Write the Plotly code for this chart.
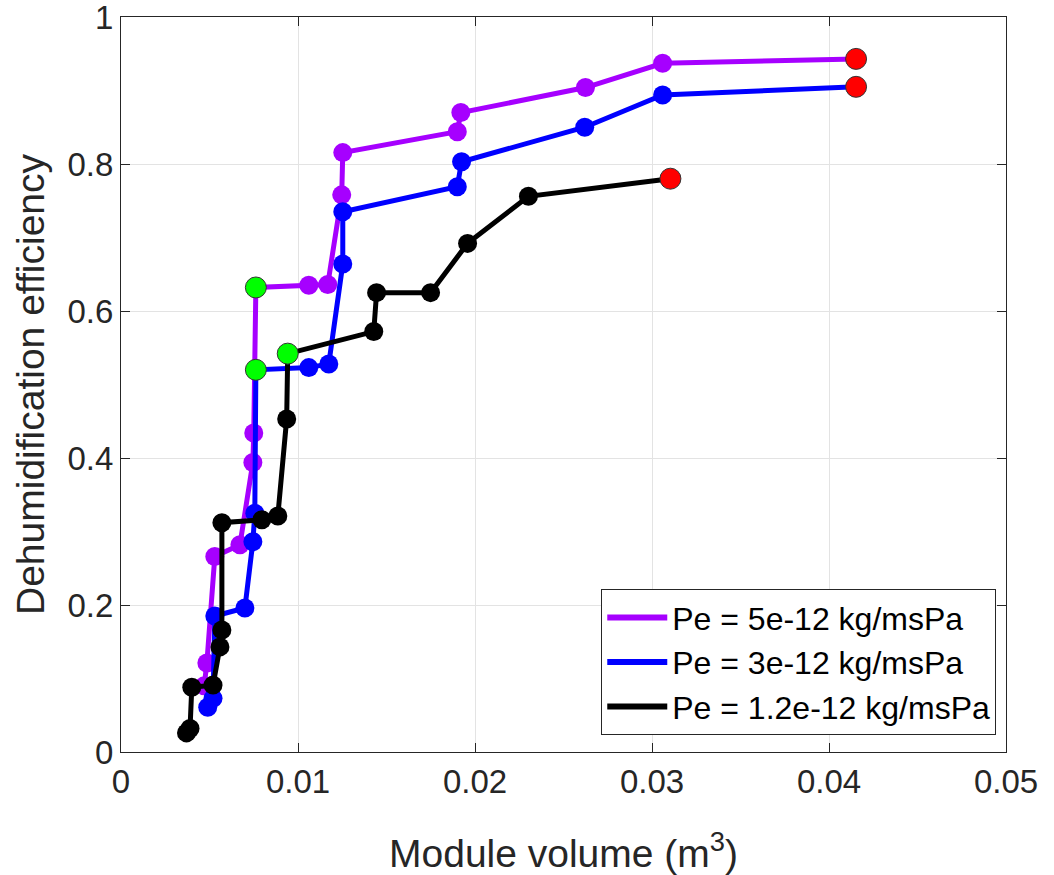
import plotly.graph_objects as go

# ---- data ----
series_names = ["Pe = 5e-12 kg/msPa", "Pe = 3e-12 kg/msPa", "Pe = 1.2e-12 kg/msPa"]

x_p5 = [0.0047, 0.00485, 0.0053, 0.00672, 0.00745, 0.0075, 0.00762, 0.01061, 0.01168,
        0.01247, 0.01253, 0.0190, 0.0192, 0.02624, 0.0306, 0.04153]
y_p5 = [0.090, 0.121, 0.266, 0.282, 0.394, 0.434, 0.632, 0.635, 0.636,
        0.758, 0.8155, 0.844, 0.870, 0.904, 0.937, 0.943]

x_p3 = [0.0049, 0.0052, 0.0053, 0.0070, 0.00745, 0.00756, 0.00762, 0.01061, 0.01174,
        0.01253, 0.01253, 0.0190, 0.01924, 0.0262, 0.0306, 0.04153]
y_p3 = [0.061, 0.073, 0.185, 0.196, 0.286, 0.325, 0.520, 0.523, 0.528,
        0.664, 0.735, 0.769, 0.803, 0.850, 0.894, 0.905]

x_p12 = [0.0037, 0.0039, 0.0040, 0.0052, 0.00559, 0.0057, 0.0057, 0.00796, 0.00886,
         0.00936, 0.00942, 0.01428, 0.01444, 0.01749, 0.01958, 0.02302, 0.03104]
y_p12 = [0.026, 0.032, 0.088, 0.091, 0.143, 0.166, 0.312, 0.316, 0.321,
         0.453, 0.542, 0.572, 0.625, 0.625, 0.692, 0.756, 0.780]

# highlighted points
green_x = [0.00762, 0.00762, 0.00942]
green_y = [0.632, 0.520, 0.542]
red_x = [0.04153, 0.04153, 0.03104]
red_y = [0.943, 0.905, 0.780]

colors = ["#a600ff", "#0000ff", "#000000"]
xs = [x_p5, x_p3, x_p12]
ys = [y_p5, y_p3, y_p12]

FONT = "Liberation Sans, Arial, Helvetica, sans-serif"

fig = go.Figure()
for xv, yv, c in zip(xs, ys, colors):
    fig.add_trace(go.Scatter(
        x=xv, y=yv, mode="lines+markers",
        line=dict(color=c, width=5),
        marker=dict(color=c, size=19, line=dict(width=0)),
        showlegend=False, hoverinfo="skip"))

fig.add_trace(go.Scatter(
    x=green_x, y=green_y, mode="markers",
    marker=dict(color="#00ff00", size=21, line=dict(color="#333333", width=1)),
    showlegend=False))
fig.add_trace(go.Scatter(
    x=red_x, y=red_y, mode="markers",
    marker=dict(color="#ff0000", size=21, line=dict(color="#333333", width=1)),
    showlegend=False))

# legend entries (lines only)
for name, c in zip(series_names, colors):
    fig.add_trace(go.Scatter(
        x=[None], y=[None], mode="lines", name=name,
        line=dict(color=c, width=6)))

axis_common = dict(
    showline=True, linecolor="#262626", linewidth=1, mirror="ticks",
    ticks="inside", ticklen=9, tickcolor="#262626",
    showgrid=True, gridcolor="#e3e3e3", gridwidth=1,
    zeroline=False, ticklabeloverflow="allow", automargin=False,
    tickfont=dict(family=FONT, size=33, color="#262626"),
)

fig.update_layout(
    width=1054, height=875,
    margin=dict(l=121, r=48, t=17, b=123),
    paper_bgcolor="white", plot_bgcolor="white",
    font=dict(family=FONT, color="#262626"),
    xaxis=dict(
        range=[0, 0.05], tickvals=[0, 0.01, 0.02, 0.03, 0.04, 0.05],
        ticktext=["0", "0.01", "0.02", "0.03", "0.04", "0.05"],
        title=dict(text="Module volume (m<sup>3</sup>)", font=dict(family=FONT, size=39, color="#262626"),
                   standoff=42),
        **axis_common),
    yaxis=dict(
        range=[0, 1], tickvals=[0, 0.2, 0.4, 0.6, 0.8, 1],
        ticktext=["0", "0.2", "0.4", "0.6", "0.8", "1"],
        title=dict(text="Dehumidification efficiency", font=dict(family=FONT, size=39, color="#262626"),
                   standoff=10),
        **axis_common),
    legend=dict(
        x=0.989, y=0.023, xanchor="right", yanchor="bottom",
        bgcolor="white", bordercolor="#262626", borderwidth=1,
        font=dict(family=FONT, size=32, color="#000000"),
        tracegroupgap=0, itemwidth=60),
)

fig.write_html("out.html")
